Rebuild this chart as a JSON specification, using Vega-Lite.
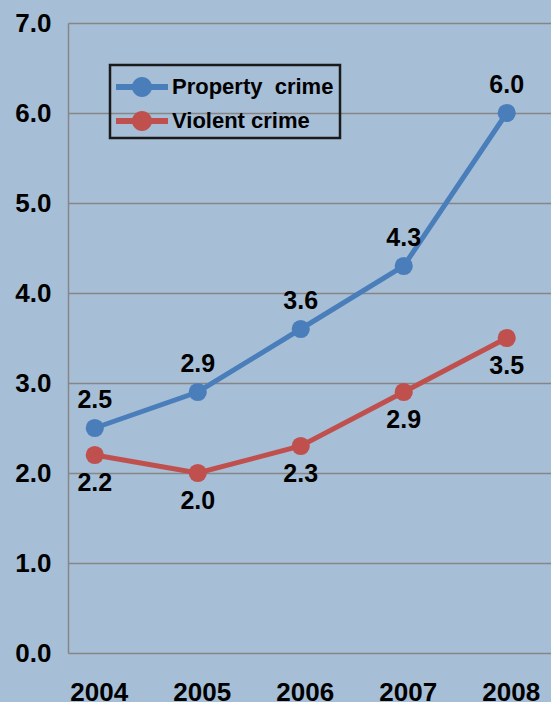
{
  "$schema": "https://vega.github.io/schema/vega-lite/v6.json",
  "width": 483,
  "height": 630,
  "autosize": {"type": "none"},
  "padding": {"left": 68, "top": 23, "right": 0, "bottom": 49},
  "background": "#a6bed6",
  "config": {
    "view": {"stroke": null},
    "font": "Liberation Sans"
  },
  "data": {
    "values": [
      {"year": 2004, "series": "Property\u00a0 crime", "rate": 2.5},
      {"year": 2005, "series": "Property\u00a0 crime", "rate": 2.9},
      {"year": 2006, "series": "Property\u00a0 crime", "rate": 3.6},
      {"year": 2007, "series": "Property\u00a0 crime", "rate": 4.3},
      {"year": 2008, "series": "Property\u00a0 crime", "rate": 6.0},
      {"year": 2004, "series": "Violent crime", "rate": 2.2},
      {"year": 2005, "series": "Violent crime", "rate": 2.0},
      {"year": 2006, "series": "Violent crime", "rate": 2.3},
      {"year": 2007, "series": "Violent crime", "rate": 2.9},
      {"year": 2008, "series": "Violent crime", "rate": 3.5}
    ]
  },
  "encoding": {
    "x": {
      "field": "year", "type": "quantitative",
      "scale": {"domain": [2003.74, 2008.43], "nice": false, "zero": false},
      "axis": {
        "values": [2004, 2005, 2006, 2007, 2008], "format": "d", "title": null,
        "grid": false, "domain": false, "ticks": false,
        "labelFont": "Liberation Sans", "labelFontWeight": "bold", "labelFontSize": 26,
        "labelColor": "#000000", "labelPadding": 26, "labelOffset": 4
      }
    },
    "y": {
      "field": "rate", "type": "quantitative",
      "scale": {"domain": [0, 7], "nice": false},
      "axis": {
        "values": [0, 1, 2, 3, 4, 5, 6, 7], "format": ".1f", "title": null,
        "grid": true, "gridColor": "#868686", "gridWidth": 1.5, "gridOpacity": 1,
        "domain": true, "domainColor": "#868686", "domainWidth": 1.5,
        "ticks": false,
        "labelFont": "Liberation Sans", "labelFontWeight": "bold", "labelFontSize": 26,
        "labelColor": "#000000", "labelPadding": 17
      }
    },
    "color": {
      "field": "series", "type": "nominal",
      "scale": {"domain": ["Property\u00a0 crime", "Violent crime"], "range": ["#4a7ebb", "#c0504d"]},
      "legend": {
        "title": null, "orient": "none", "legendX": 42, "legendY": 42,
        "strokeColor": "#1a1a1a", "padding": 6,
        "symbolType": "M-1,-0.19H2.25V0.19H-1Z M0,0A0.625,0.625 0 1,1 1.25,0A0.625,0.625 0 1,1 0,0Z",
        "symbolSize": 1024, "symbolStrokeWidth": 0,
        "labelFont": "Liberation Sans", "labelFontWeight": "bold", "labelFontSize": 22,
        "labelColor": "#000000", "labelOffset": 24, "rowPadding": 7, "labelLimit": 300,
        "encode": {
          "legend": {"update": {"strokeWidth": {"value": 2.5}}},
          "symbols": {"update": {"fill": {"signal": "scale('color', datum.value)"}, "fillOpacity": {"value": 1}, "strokeWidth": {"value": 0}}}
        }
      }
    }
  },
  "layer": [
    {"mark": {"type": "line", "strokeWidth": 5}},
    {"mark": {"type": "point", "filled": true, "size": 330, "opacity": 1}},
    {
      "transform": [{"filter": "datum.series == 'Violent crime'"}],
      "mark": {"type": "text", "dy": 28, "fontSize": 25, "fontWeight": "bold", "font": "Liberation Sans", "color": "#000000"},
      "encoding": {"text": {"field": "rate", "type": "quantitative", "format": ".1f"}, "color": {"value": "#000000"}}
    },
    {
      "transform": [{"filter": "datum.series != 'Violent crime'"}],
      "mark": {"type": "text", "dy": -28, "fontSize": 25, "fontWeight": "bold", "font": "Liberation Sans", "color": "#000000"},
      "encoding": {"text": {"field": "rate", "type": "quantitative", "format": ".1f"}, "color": {"value": "#000000"}}
    }
  ]
}
